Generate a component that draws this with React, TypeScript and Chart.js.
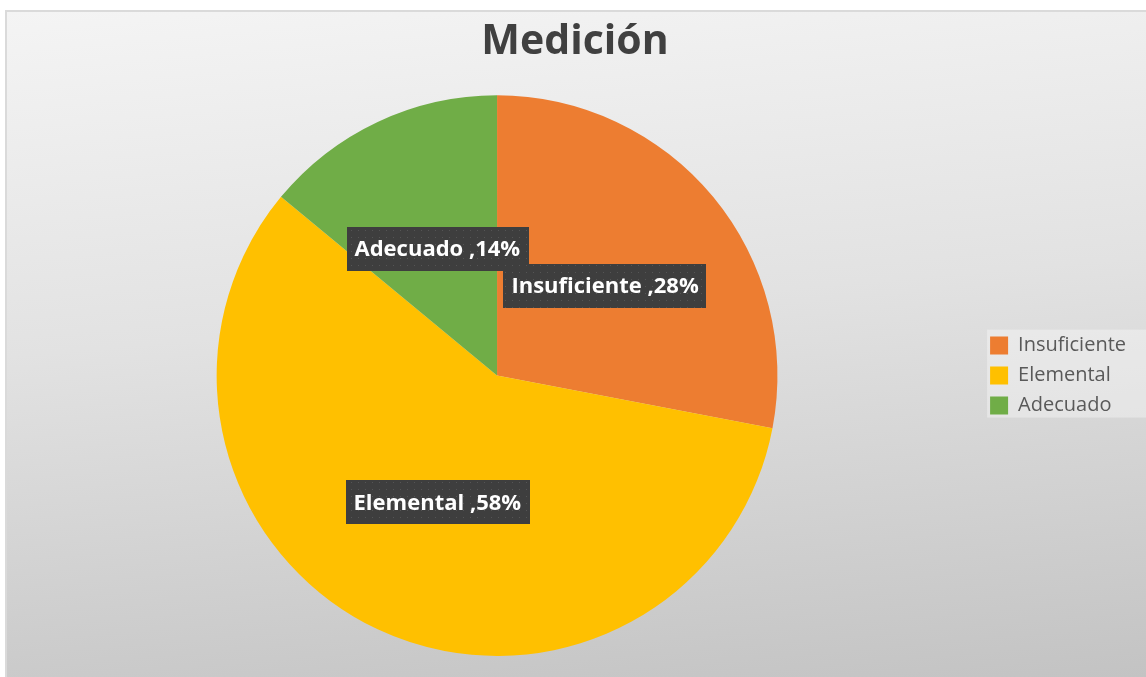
import React, { useEffect, useRef } from 'react';
import { Chart, registerables } from 'chart.js';

Chart.register(...registerables);

const chartTitle = 'Medición';
const categories = ['Insuficiente', 'Elemental', 'Adecuado'];
const percentages = [28, 58, 14];
const sliceColors = ['#ED7D31', '#FFC000', '#70AD47'];

const CANVAS_W = 1141;
const CANVAS_H = 667;

export default function App() {
  const ref = useRef<HTMLCanvasElement>(null);

  useEffect(() => {
    document.body.style.margin = '0';
    document.body.style.overflow = 'hidden';
    const canvas = ref.current;
    if (!canvas) return;

    const legendBg = {
      id: 'legendBg',
      beforeDraw(chart: any) {
        const lg = chart.legend;
        if (!lg || !lg.legendHitBoxes || !lg.legendHitBoxes.length) return;
        const hb = lg.legendHitBoxes;
        const first = hb[0];
        const last = hb[hb.length - 1];
        const ctx = chart.ctx;
        ctx.save();
        ctx.fillStyle = 'rgba(255,255,255,0.35)';
        const x0 = first.left - 3;
        const y0 = first.top - 6;
        const y1 = last.top + last.height + 2;
        ctx.fillRect(x0, y0, chart.width - x0, y1 - y0);
        ctx.restore();
      },
    };

    const sliceLabels = {
      id: 'sliceLabels',
      afterDatasetsDraw(chart: any) {
        const ctx = chart.ctx;
        const meta = chart.getDatasetMeta(0);
        const tile = document.createElement('canvas');
        tile.width = 7;
        tile.height = 7;
        const t = tile.getContext('2d')!;
        t.fillStyle = '#3e3e3e';
        t.fillRect(0, 0, 7, 7);
        t.fillStyle = '#555555';
        t.fillRect(3, 3, 1, 1);
        const pattern = ctx.createPattern(tile, 'repeat');
        ctx.save();
        ctx.font = 'bold 22px "Open Sans"';
        ctx.textAlign = 'center';
        ctx.textBaseline = 'middle';
        meta.data.forEach((arc: any, i: number) => {
          const p = arc.getProps(['x', 'y', 'startAngle', 'endAngle', 'outerRadius'], true);
          const mid = (p.startAngle + p.endAngle) / 2;
          const cx = p.x + Math.cos(mid) * p.outerRadius * 0.5;
          const cy = p.y + Math.sin(mid) * p.outerRadius * 0.5;
          const text = `${chart.data.labels[i]} ,${chart.data.datasets[0].data[i]}%`;
          const w = ctx.measureText(text).width + 16;
          const h = 44;
          ctx.fillStyle = pattern || '#3e3e3e';
          ctx.fillRect(Math.round(cx - w / 2), Math.round(cy - h / 2), Math.round(w), h);
          ctx.fillStyle = '#ffffff';
          ctx.fillText(text, cx, cy + 1);
        });
        ctx.restore();
      },
    };

    const chart = new Chart(canvas, {
      type: 'pie',
      data: {
        labels: categories,
        datasets: [
          {
            data: percentages,
            backgroundColor: sliceColors,
            borderWidth: 0,
          },
        ],
      },
      options: {
        animation: false,
        responsive: false,
        layout: { padding: { left: 9, right: 10, top: 0, bottom: 21 } },
        plugins: {
          title: {
            display: true,
            text: chartTitle,
            color: '#404040',
            font: { family: 'Open Sans', size: 41, weight: 'bold', lineHeight: 1.2 },
            padding: { top: 8, bottom: 28 },
          },
          legend: {
            position: 'right',
            fullSize: false,
            labels: {
              boxWidth: 18,
              boxHeight: 18,
              padding: 10,
              color: '#595959',
              font: { family: 'Open Sans', size: 20 },
            },
          },
          tooltip: { enabled: false },
        },
      },
      plugins: [legendBg, sliceLabels],
    });

    return () => chart.destroy();
  }, []);

  return (
    <div>
      <div
        style={{
          position: 'absolute',
          left: 5,
          top: 10,
          width: CANVAS_W,
          height: CANVAS_H,
          boxSizing: 'border-box',
          borderTop: '2px solid #dadada',
          borderLeft: '2px solid #dadada',
          background: 'linear-gradient(175deg, #f4f4f4 0%, #e2e2e2 45%, #c3c3c3 100%)',
        }}
      />
      <canvas
        ref={ref}
        width={CANVAS_W}
        height={CANVAS_H}
        style={{ position: 'absolute', left: 5, top: 10, width: CANVAS_W, height: CANVAS_H }}
      />
    </div>
  );
}
